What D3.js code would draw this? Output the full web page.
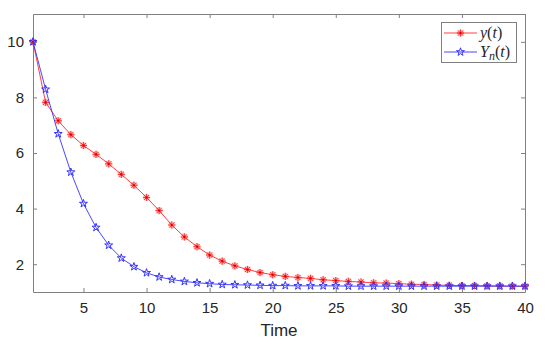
<!DOCTYPE html>
<html>
<head>
<meta charset="utf-8">
<script src="https://cdn.jsdelivr.net/npm/d3@7"></script>
<style>
  body { margin: 0; background: #fff; }
  svg { display: block; }
</style>
</head>
<body>
<svg id="chart" width="550" height="344"></svg>
<script>
// data
var time = d3.range(1, 41)
var yt = [10, 7.82, 7.16, 6.66, 6.27, 5.95, 5.61, 5.23, 4.84, 4.40,
  3.93, 3.41, 2.98, 2.63, 2.33, 2.11, 1.94, 1.81, 1.70, 1.62,
  1.56, 1.52, 1.49, 1.44, 1.41, 1.38, 1.36, 1.33, 1.32, 1.30,
  1.28, 1.27, 1.25, 1.24, 1.23, 1.23, 1.22, 1.22, 1.21, 1.21]
var Yn = [10, 8.29, 6.69, 5.31, 4.18, 3.32, 2.68, 2.22, 1.91, 1.69,
  1.54, 1.45, 1.38, 1.33, 1.30, 1.27, 1.26, 1.25, 1.24, 1.23,
  1.23, 1.22, 1.22, 1.22, 1.22, 1.21, 1.21, 1.21, 1.21, 1.21,
  1.21, 1.21, 1.21, 1.21, 1.21, 1.21, 1.21, 1.21, 1.21, 1.21]
var xTicks = [5, 10, 15, 20, 25, 30, 35, 40]
var yTicks = [2, 4, 6, 8, 10]

var margin = { left: 33, right: 25, top: 14, bottom: 52 }
var width = 550, height = 344
var svg = d3.select('#chart')

var x = d3.scaleLinear().domain([1, 40]).range([margin.left, width - margin.right])
var y = d3.scaleLinear().domain([1, 11]).range([height - margin.bottom, margin.top])

var axisColor = '#808080'
var textColor = '#262626'
var sans = '"Liberation Sans", Arial, sans-serif'

//
// axes (box with inward ticks on all sides)
//
var x0 = x.range()[0], x1 = x.range()[1]
var y0 = y.range()[0], y1 = y.range()[1]

svg.append('g')
  .attr('transform', 'translate(0,' + y0 + ')')
  .call(d3.axisBottom(x).tickValues(xTicks).tickSizeInner(-4).tickSizeOuter(0).tickPadding(10))
  .call(styleAxis)

svg.append('g')
  .attr('transform', 'translate(0,' + y1 + ')')
  .call(d3.axisTop(x).tickValues(xTicks).tickSizeInner(-4).tickSizeOuter(0).tickFormat(''))
  .call(styleAxis)

svg.append('g')
  .attr('transform', 'translate(' + x0 + ',0)')
  .call(d3.axisLeft(y).tickValues(yTicks).tickSizeInner(-4).tickSizeOuter(0).tickPadding(9))
  .call(styleAxis)

svg.append('g')
  .attr('transform', 'translate(' + x1 + ',0)')
  .call(d3.axisRight(y).tickValues(yTicks).tickSizeInner(-4).tickSizeOuter(0).tickFormat(''))
  .call(styleAxis)

function styleAxis(g) {
  g.attr('font-family', sans).attr('font-size', 15)
  g.select('.domain').attr('stroke', axisColor)
  g.selectAll('.tick line').attr('stroke', axisColor)
  g.selectAll('.tick text').attr('fill', textColor)
}

svg.append('text')
  .attr('x', (x0 + x1) / 2)
  .attr('y', 336)
  .attr('text-anchor', 'middle')
  .attr('fill', textColor)
  .attr('font-family', sans)
  .attr('font-size', 17)
  .text('Time')

//
// markers
//
function asterisk(r) {
  var d = ''
  for (var i = 0; i < 4; i++) {
    var a = i * Math.PI / 4
    var dx = r * Math.cos(a), dy = r * Math.sin(a)
    d += 'M' + (-dx) + ',' + (-dy) + 'L' + dx + ',' + dy
  }
  return d
}

function pentagram(r) {
  var pts = []
  for (var i = 0; i < 10; i++) {
    var rr = i % 2 ? r * 0.382 : r
    var a = -Math.PI / 2 + i * Math.PI / 5
    pts.push([rr * Math.cos(a), rr * Math.sin(a)])
  }
  return 'M' + pts.join('L') + 'Z'
}

var line = d3.line()
  .x(function (d) { return x(d[0]) })
  .y(function (d) { return y(d[1]) })

function drawSeries(vals, color, kind) {
  var pts = time.map(function (t, i) { return [t, vals[i]] })
  var g = svg.append('g')
  g.append('path')
    .datum(pts)
    .attr('d', line)
    .attr('fill', 'none')
    .attr('stroke', color)
    .attr('stroke-width', 0.9)
  var m = g.selectAll('g.m').data(pts).enter().append('g')
    .attr('transform', function (d) { return 'translate(' + x(d[0]) + ',' + y(d[1]) + ')' })
  drawMarker(m, color, kind)
}

function drawMarker(sel, color, kind) {
  if (kind === 'star') {
    sel.append('path')
      .attr('d', asterisk(3.6))
      .attr('stroke', color)
      .attr('stroke-opacity', 0.35)
      .attr('stroke-width', 2.2)
    sel.append('path')
      .attr('d', asterisk(3.6))
      .attr('stroke', color)
      .attr('stroke-width', 0.9)
    sel.append('circle').attr('r', 1.1).attr('fill', '#d00000')
  } else {
    sel.append('path')
      .attr('d', pentagram(4.2))
      .attr('fill', 'none')
      .attr('stroke', color)
      .attr('stroke-width', 1)
  }
}

drawSeries(yt, '#ff2a2a', 'star')
drawSeries(Yn, '#3333ff', 'pent')

//
// legend
//
var legend = svg.append('g')
legend.append('rect')
  .attr('x', 441.5).attr('y', 22.5)
  .attr('width', 75).attr('height', 40)
  .attr('fill', '#fff')
  .attr('stroke', axisColor)

var items = [
  { color: '#ff2a2a', kind: 'star', y: 33 },
  { color: '#3333ff', kind: 'pent', y: 52 }
]
items.forEach(function (it) {
  legend.append('line')
    .attr('x1', 444).attr('x2', 477)
    .attr('y1', it.y).attr('y2', it.y)
    .attr('stroke', it.color)
    .attr('stroke-width', 0.9)
  var m = legend.append('g').attr('transform', 'translate(460.5,' + it.y + ')')
  drawMarker(m, it.color, it.kind)
})

var serif = '"Liberation Serif", "DejaVu Serif", serif'
var t1 = legend.append('text')
  .attr('x', 480).attr('y', 38)
  .attr('fill', textColor)
  .attr('font-family', serif)
  .attr('font-size', 16)
t1.append('tspan').attr('font-style', 'italic').text('y')
t1.append('tspan').text('(')
t1.append('tspan').attr('font-style', 'italic').text('t')
t1.append('tspan').text(')')

var t2 = legend.append('text')
  .attr('x', 480).attr('y', 57)
  .attr('fill', textColor)
  .attr('font-family', serif)
  .attr('font-size', 16)
t2.append('tspan').attr('font-style', 'italic').text('Y')
t2.append('tspan').attr('font-style', 'italic').attr('font-size', 12).attr('dy', 3).text('n')
t2.append('tspan').attr('dy', -3).text('(')
t2.append('tspan').attr('font-style', 'italic').text('t')
t2.append('tspan').text(')')
</script>
</body>
</html>
